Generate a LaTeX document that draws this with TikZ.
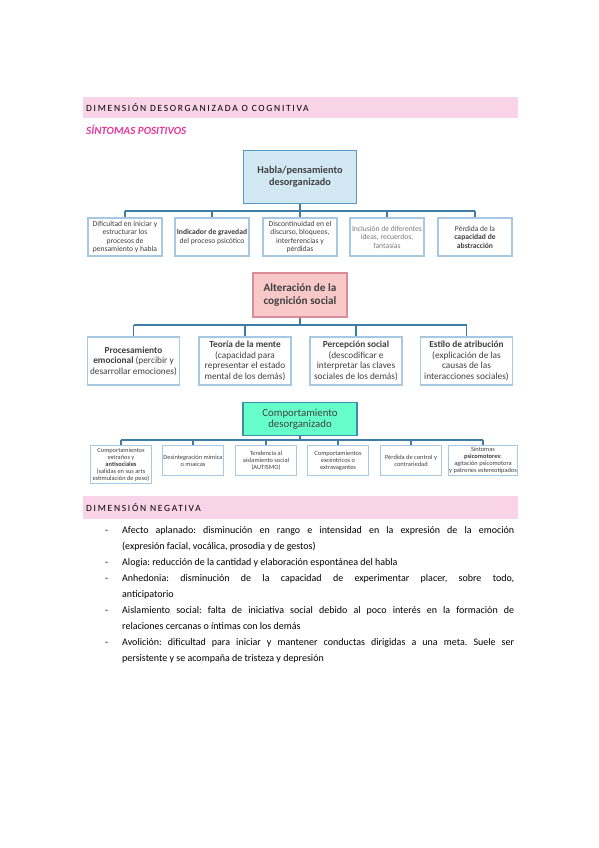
\documentclass[tikz,border=0pt]{standalone}
\usepackage{fontspec}
\setmainfont{Carlito}
\definecolor{band}{HTML}{F9D3E7}
\definecolor{magen}{HTML}{E6399B}
\definecolor{hablafill}{HTML}{D2E8F3}
\definecolor{hablaborder}{HTML}{5A98C4}
\definecolor{alterfill}{HTML}{F9C9C9}
\definecolor{alterborder}{HTML}{D98C99}
\definecolor{compfill}{HTML}{66FFCC}
\definecolor{compborder}{HTML}{3B8FA8}
\definecolor{lineblue}{HTML}{3E7DA6}
\definecolor{childborder}{HTML}{A7C8E0}
\definecolor{txtgray}{HTML}{404040}
\definecolor{lightgray}{HTML}{7A7A7A}
\tikzset{
  conn/.style={draw=lineblue, line width=1.1pt},
  bandbox/.style={fill=band, minimum width=435pt, minimum height=21pt, anchor=north west, inner sep=0pt},
  bandtext/.style={anchor=west, inner sep=0pt, text=black, font=\fontsize{9.5}{11}\selectfont\addfontfeature{LetterSpace=18}},
  parentbox/.style={line width=1.1pt, align=center, inner sep=1pt, text=txtgray},
  cbox/.style={draw=childborder, line width=1.2pt, fill=white, align=center, inner sep=1pt, text=txtgray},
  rowa/.style={cbox, minimum width=74pt, minimum height=38pt, font=\fontsize{7.6}{8.5}\selectfont},
  rowb/.style={cbox, minimum width=92pt, minimum height=48pt, font=\fontsize{9.3}{10.6}\selectfont},
  rowc/.style={cbox, anchor=north, minimum width=61pt, minimum height=30pt, font=\fontsize{6.4}{6.9}\selectfont},
  bodytext/.style={anchor=base west, inner sep=0pt, text width=392pt, align=justify, font=\fontsize{10}{16}\selectfont\frenchspacing},
  dashmark/.style={anchor=base west, inner sep=0pt, font=\fontsize{10}{16}\selectfont},
}
\begin{document}
\begin{tikzpicture}[x=1pt,y=-1pt]
\useasboundingbox (0,0) rectangle (599,848);
\fill[white] (0,0) rectangle (599,848);

% header 1
\node[bandbox] (band1) at (83,97) {};
\node[bandtext] (band1t) at (86,107.5) {DIMENSIÓN DESORGANIZADA O COGNITIVA};
\node[anchor=west, inner sep=0pt, text=magen, font=\fontsize{11}{13}\selectfont\bfseries\itshape] (sint) at (86,130) {SÍNTOMAS POSITIVOS};

% Habla / pensamiento
\node[parentbox, draw=hablaborder, fill=hablafill, minimum width=113pt, minimum height=53pt, font=\fontsize{10.3}{11.5}\selectfont\bfseries] (habla) at (300,177) {Habla/pensamiento\\desorganizado};

\node[rowa] (a1) at (125,237) {Dificultad en iniciar y\\estructurar los\\procesos de\\pensamiento y habla};
\node[rowa] (a2) at (212,237) {\textbf{Indicador de gravedad}\\del proceso psicótico};
\node[rowa] (a3) at (300,237) {Discontinuidad en el\\discurso, bloqueos,\\interferencias y\\pérdidas};
\node[rowa, text=lightgray] (a4) at (387,237) {Inclusión de diferentes\\ideas, recuerdos,\\fantasías};
\node[rowa] (a5) at (475,237) {Pérdida de la\\\textbf{capacidad de}\\\textbf{abstracción}};

\coordinate (b1) at (0,211);
\draw[conn] (habla.south) -- (habla.south |- b1);
\draw[conn] (a1.north |- b1) -- (a5.north |- b1);
\foreach \n in {a1,a2,a3,a4,a5} \draw[conn] (\n.north) -- (\n.north |- b1);

% Alteración de la cognición social
\node[parentbox, draw=alterborder, fill=alterfill, minimum width=94pt, minimum height=44pt, font=\fontsize{11.2}{12.2}\selectfont\bfseries] (alter) at (300,295) {Alteración de la\\cognición social};

\node[rowb] (c1) at (133.5,361) {\textbf{Procesamiento}\\\textbf{emocional} (percibir y\\desarrollar emociones)};
\node[rowb] (c2) at (245,361) {\textbf{Teoría de la mente}\\(capacidad para\\representar el estado\\mental de los demás)};
\node[rowb] (c3) at (356,361) {\textbf{Percepción social}\\(descodificar e\\interpretar las claves\\sociales de los demás)};
\node[rowb] (c4) at (466.5,361) {\textbf{Estilo de atribución}\\(explicación de las\\causas de las\\interacciones sociales)};

\coordinate (b2) at (0,325);
\draw[conn] (alter.south) -- (alter.south |- b2);
\draw[conn] (c1.north |- b2) -- (c4.north |- b2);
\foreach \n in {c1,c2,c3,c4} \draw[conn] (\n.north) -- (\n.north |- b2);

% Comportamiento desorganizado
\node[parentbox, draw=compborder, fill=compfill, minimum width=114pt, minimum height=33pt, font=\fontsize{10.8}{11}\selectfont] (comp) at (300,419) {Comportamiento\\desorganizado};

\node[rowc, minimum height=38pt] (e1) at (121,445) {Comportamientos\\extraños y\\\textbf{antisociales}\\(salidas en sus arts\\estimulación de peso)};
\node[rowc] (e2) at (193,445) {Desintegración mímica\\o muecas};
\node[rowc] (e3) at (266,445) {Tendencia al\\aislamiento social\\(AUTISMO)};
\node[rowc] (e4) at (338,445) {Comportamientos\\excéntricos o\\extravagantes};
\node[rowc] (e5) at (411,445) {Pérdida de control y\\contrariedad};
\node[rowc] (e6) at (483,445) {Síntomas\\\textbf{psicomotores}:\\agitación psicomotora\\y patrones estereotipados};

\coordinate (b3) at (0,440);
\draw[conn] (comp.south) -- (comp.south |- b3);
\draw[conn] (e1.north |- b3) -- (e6.north |- b3);
\foreach \n in {e1,e2,e3,e4,e5,e6} \draw[conn] (\n.north) -- (\n.north |- b3);

% header 2
\node[bandbox, minimum height=23pt] (band2) at (83,496) {};
\node[bandtext] (band2t) at (86,507.5) {DIMENSIÓN NEGATIVA};

% bullets
\node[dashmark] (d1) at (105,533) {-};
\node[bodytext] (t1) at (122,533) {Afecto aplanado: disminución en rango e intensidad en la expresión de la emoción\linebreak (expresión facial, vocálica, prosodia y de gestos)};
\node[dashmark] (d2) at (105,565) {-};
\node[bodytext] (t2) at (122,565) {Alogia: reducción de la cantidad y elaboración espontánea del habla};
\node[dashmark] (d3) at (105,581) {-};
\node[bodytext] (t3) at (122,581) {Anhedonia: disminución de la capacidad de experimentar placer, sobre todo,\linebreak anticipatorio};
\node[dashmark] (d4) at (105,613) {-};
\node[bodytext] (t4) at (122,613) {Aislamiento social: falta de iniciativa social debido al poco interés en la formación de\linebreak relaciones cercanas o íntimas con los demás};
\node[dashmark] (d5) at (105,645) {-};
\node[bodytext] (t5) at (122,645) {Avolición: dificultad para iniciar y mantener conductas dirigidas a una meta. Suele ser\linebreak persistente y se acompaña de tristeza y depresión};
\end{tikzpicture}
\end{document}
